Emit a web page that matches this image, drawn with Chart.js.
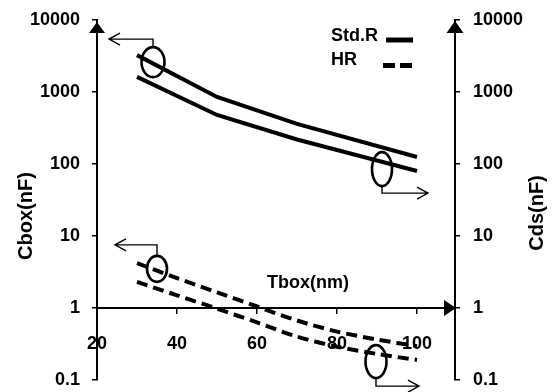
<!DOCTYPE html>
<html><head><meta charset="utf-8">
<script src="https://cdn.jsdelivr.net/npm/chart.js@4/dist/chart.umd.min.js"></script>
<style>html,body{margin:0;padding:0;background:#fff;}#wrap{width:552px;height:392px;position:relative;}</style>
</head><body><div id="wrap"><canvas id="c"></canvas></div>
<script>
// ---- data ----
const tboxStd = [30, 50, 70, 100];
const cboxStd = [3250, 855, 360, 125];
const cdsStd  = [1620, 480, 219, 80];
const tboxHR  = [30, 40, 50, 60, 70, 80, 90, 100];
const cboxHR  = [4.2, 2.6, 1.65, 1.05, 0.67, 0.47, 0.365, 0.295];
const cdsHR   = [2.3, 1.5, 0.98, 0.63, 0.40, 0.29, 0.23, 0.19];
const xTicks  = [20, 40, 60, 80, 100];
const yTicks  = [0.1, 1, 10, 100, 1000, 10000];
const legendLabels = ['Std.R', 'HR'];
const axisTitles = {x: 'Tbox(nm)', yLeft: 'Cbox(nF)', yRight: 'Cds(nF)'};
// circled points (data coordinates) with the side their arrow points to
const markerX = [34, 91.25, 35, 89.75];
const markerY = [2600, 85, 3.5, 0.18];
const markerSide = ['left', 'right', 'left', 'right'];

const FONT = '"Liberation Sans", Arial, sans-serif';
Chart.defaults.font.family = FONT;
Chart.defaults.color = '#000';

const pts = (xs, ys) => xs.map((v, i) => ({x: v, y: ys[i]}));

const markerStyle = [
  {rx: 11.5, ry: 15, rise: 8, reach: 44},
  {rx: 10, ry: 17, rise: 7, reach: 46},
  {rx: 10, ry: 13, rise: 11, reach: 42},
  {rx: 10.5, ry: 16.5, rise: 8, reach: 43}
];

const decor = {
  id: 'decor',
  afterDraw(chart) {
    const {ctx, chartArea: a, scales} = chart;
    const x = scales.x, y = scales.y;
    ctx.save();
    ctx.fillStyle = '#000'; ctx.strokeStyle = '#000';
    const tri = (p) => { ctx.beginPath(); ctx.moveTo(p[0][0], p[0][1]); ctx.lineTo(p[1][0], p[1][1]); ctx.lineTo(p[2][0], p[2][1]); ctx.closePath(); ctx.fill(); };
    // axis arrowheads
    tri([[a.left, a.top + 2], [a.left - 8, a.top + 13], [a.left + 8, a.top + 13]]);
    tri([[a.right, a.top + 1], [a.right - 8.5, a.top + 13], [a.right + 8.5, a.top + 13]]);
    const y1 = y.getPixelForValue(1);
    tri([[a.right + 1, y1], [a.right - 11, y1 - 8], [a.right - 11, y1 + 8]]);

    // circled points + arrows
    markerX.forEach((mx, i) => {
      const s = markerStyle[i];
      const cx = x.getPixelForValue(mx), cy = y.getPixelForValue(markerY[i]);
      ctx.setLineDash([]);
      ctx.lineWidth = 2.6;
      ctx.beginPath(); ctx.ellipse(cx, cy, s.rx, s.ry, 0, 0, Math.PI * 2); ctx.stroke();
      ctx.lineWidth = 1.4;
      ctx.beginPath();
      if (markerSide[i] === 'left') {
        const t = cy - s.ry, ly = t - s.rise, ex = cx - s.reach;
        ctx.moveTo(cx, t); ctx.lineTo(cx, ly); ctx.lineTo(ex, ly);
        ctx.moveTo(ex + 11, ly - 6); ctx.lineTo(ex, ly); ctx.lineTo(ex + 11, ly + 6);
      } else {
        const b = cy + s.ry, ly = b + s.rise, ex = cx + s.reach;
        ctx.moveTo(cx, b); ctx.lineTo(cx, ly); ctx.lineTo(ex, ly);
        ctx.moveTo(ex - 11, ly - 6); ctx.lineTo(ex, ly); ctx.lineTo(ex - 11, ly + 6);
      }
      ctx.stroke();
    });

    // legend
    ctx.font = 'bold 18px ' + FONT;
    ctx.textAlign = 'left'; ctx.textBaseline = 'middle';
    const lx = a.right - 124;
    ctx.fillText(legendLabels[0], lx, a.top + 16);
    ctx.fillText(legendLabels[1], lx, a.top + 40);
    ctx.lineWidth = 5;
    ctx.beginPath(); ctx.moveTo(a.right - 69, a.top + 20); ctx.lineTo(a.right - 42, a.top + 20); ctx.stroke();
    ctx.setLineDash([12, 5]);
    ctx.beginPath(); ctx.moveTo(a.right - 72, a.top + 45.5); ctx.lineTo(a.right - 43, a.top + 45.5); ctx.stroke();
    ctx.setLineDash([]);

    // axis titles
    ctx.textAlign = 'center';
    ctx.font = 'bold 18px ' + FONT;
    ctx.fillText(axisTitles.x, x.getPixelForValue(72.75), y1 - 25);
    ctx.font = 'bold 20px ' + FONT;
    const midY = (a.top + a.bottom) / 2 + 16;
    ctx.save(); ctx.translate(26, midY); ctx.rotate(-Math.PI / 2); ctx.fillText(axisTitles.yLeft, 0, 0); ctx.restore();
    ctx.save(); ctx.translate(a.right + 82, midY - 3); ctx.rotate(-Math.PI / 2); ctx.fillText(axisTitles.yRight, 0, 0); ctx.restore();
    ctx.restore();
  }
};

const tickFont = {family: FONT, size: 18, weight: 'bold'};
const yAxis = (pos, pad) => ({
  type: 'logarithmic', position: pos, min: 0.1, max: 10000,
  afterBuildTicks: s => { s.ticks = yTicks.map(v => ({value: v})); },
  afterFit: s => { s.width = 97; s.paddingTop = 0; s.paddingBottom = 0; },
  grid: {display: true, drawOnChartArea: false, drawTicks: true, tickLength: 5, color: '#000', lineWidth: 1.5},
  border: {display: true, color: '#000', width: 2},
  ticks: {color: '#000', font: tickFont, padding: pad, autoSkip: false, callback: v => String(v)}
});

new Chart(document.getElementById('c'), {
  type: 'line',
  data: {
    datasets: [
      {label: 'Std.R Cbox', data: pts(tboxStd, cboxStd), yAxisID: 'y', borderColor: '#000', borderWidth: 4, pointRadius: 0, tension: 0, fill: false},
      {label: 'Std.R Cds', data: pts(tboxStd, cdsStd), yAxisID: 'y2', borderColor: '#000', borderWidth: 4, pointRadius: 0, tension: 0, fill: false},
      {label: 'HR Cbox', data: pts(tboxHR, cboxHR), yAxisID: 'y', borderColor: '#000', borderWidth: 4, borderDash: [11, 6], pointRadius: 0, tension: 0.3, fill: false},
      {label: 'HR Cds', data: pts(tboxHR, cdsHR), yAxisID: 'y2', borderColor: '#000', borderWidth: 4, borderDash: [11, 6], pointRadius: 0, tension: 0.3, fill: false}
    ]
  },
  options: {
    responsive: true, maintainAspectRatio: false, animation: false,
    layout: {padding: {top: 20, bottom: 12, left: 0, right: 0}},
    plugins: {legend: {display: false}, tooltip: {enabled: false}},
    scales: {
      x: {
        type: 'linear', position: {y: 1}, min: 20, max: 109.5,
        afterBuildTicks: s => { s.ticks = xTicks.map(v => ({value: v})); },
        grid: {display: true, drawOnChartArea: false, drawTicks: true, tickLength: 5, color: '#000', lineWidth: 1.5},
        border: {display: true, color: '#000', width: 2},
        ticks: {color: '#000', font: tickFont, padding: 20, maxRotation: 0, autoSkip: false, callback: v => String(v)}
      },
      y: yAxis('left', 12),
      y2: yAxis('right', 13)
    }
  },
  plugins: [decor]
});
</script>
</body></html>
